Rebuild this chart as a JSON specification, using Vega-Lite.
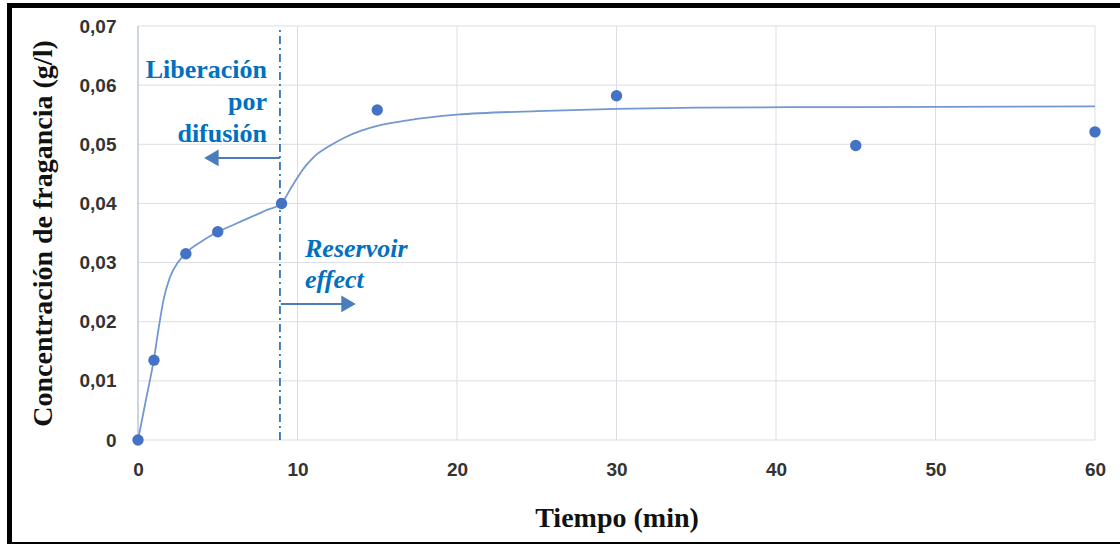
{
  "$schema": "https://vega.github.io/schema/vega-lite/v6.json",
  "width": 1113,
  "height": 539,
  "autosize": {"type": "none"},
  "padding": {"left": 9.5, "top": 5.5, "right": -2.5, "bottom": -0.5},
  "background": "white",
  "config": {
    "view": {"stroke": "black", "strokeWidth": 5, "fill": "white"},
    "axis": {
      "grid": false, "domain": false, "ticks": false, "labelFlush": false,
      "labelFont": "Liberation Sans", "labelFontWeight": "bold", "labelFontSize": 19,
      "labelColor": "#333333",
      "titleFont": "Liberation Serif", "titleFontSize": 28, "titleFontWeight": "bold",
      "titleColor": "#111111", "titleBaseline": "alphabetic"
    },
    "axisX": {"offset": -104.5, "labelPadding": 20, "titleY": 86},
    "axisY": {"offset": -128.5, "labelPadding": 22, "titleX": -87}
  },
  "datasets": {
    "points": [
      {"t": 0, "c": 0},
      {"t": 1, "c": 0.0135},
      {"t": 3, "c": 0.0315},
      {"t": 5, "c": 0.0352},
      {"t": 9, "c": 0.0400},
      {"t": 15, "c": 0.0558},
      {"t": 30, "c": 0.0582},
      {"t": 45, "c": 0.0498},
      {"t": 60, "c": 0.0521}
    ],
    "curve": [
      {"t": 0, "c": 0},
      {"t": 0.5, "c": 0.0068},
      {"t": 1, "c": 0.0137},
      {"t": 1.3, "c": 0.0190},
      {"t": 1.6, "c": 0.0237},
      {"t": 2, "c": 0.0275},
      {"t": 2.5, "c": 0.0300},
      {"t": 3, "c": 0.0316},
      {"t": 4, "c": 0.0336},
      {"t": 5, "c": 0.0352},
      {"t": 6, "c": 0.0364},
      {"t": 7, "c": 0.0376},
      {"t": 8, "c": 0.0388},
      {"t": 9, "c": 0.0400},
      {"t": 9.5, "c": 0.0422},
      {"t": 10, "c": 0.0444},
      {"t": 10.5, "c": 0.0463},
      {"t": 11, "c": 0.0478},
      {"t": 12, "c": 0.0497},
      {"t": 13, "c": 0.0512},
      {"t": 14, "c": 0.0523},
      {"t": 15, "c": 0.0531},
      {"t": 17, "c": 0.0541},
      {"t": 20, "c": 0.0550},
      {"t": 25, "c": 0.0556},
      {"t": 30, "c": 0.0560},
      {"t": 35, "c": 0.0562},
      {"t": 45, "c": 0.0563},
      {"t": 60, "c": 0.0564}
    ],
    "gridx": [{"v": 0}, {"v": 10}, {"v": 20}, {"v": 30}, {"v": 40}, {"v": 50}, {"v": 60}],
    "gridy": [{"v": 0}, {"v": 0.01}, {"v": 0.02}, {"v": 0.03}, {"v": 0.04}, {"v": 0.05}, {"v": 0.06}, {"v": 0.07}],
    "divider": [{"t": 8.9}],
    "arrows": [
      {"from": 8.9, "to": 4.9, "c": 0.0477, "dir": "left"},
      {"from": 8.95, "to": 12.9, "c": 0.0230, "dir": "right"}
    ],
    "heads": [
      {"t": 4.6, "c": 0.0477, "dir": "left"},
      {"t": 13.2, "c": 0.0230, "dir": "right"}
    ],
    "leftText": [
      {"t": 8.09, "c": 0.0612, "label": "Liberación"},
      {"t": 8.09, "c": 0.0558, "label": "por"},
      {"t": 8.09, "c": 0.0504, "label": "difusión"}
    ],
    "rightText": [
      {"t": 10.47, "c": 0.0309, "label": "Reservoir"},
      {"t": 10.47, "c": 0.0257, "label": "effect"}
    ]
  },
  "layer": [
    {
      "data": {"name": "gridx"},
      "mark": {"type": "rule", "color": "#DADDE4", "strokeWidth": 1},
      "encoding": {
        "x": {
          "field": "v", "type": "quantitative", "title": "Tiempo (min)",
          "scale": {"domain": [0, 60], "range": [128.5, 1085.5], "nice": false, "zero": false},
          "axis": {"values": [0, 10, 20, 30, 40, 50, 60]}
        },
        "y": {
          "datum": 0, "type": "quantitative", "title": "Concentración de fragancia (g/l)",
          "scale": {"domain": [0, 0.07], "range": [434.5, 20.5], "nice": false, "zero": false},
          "axis": {
            "values": [0, 0.01, 0.02, 0.03, 0.04, 0.05, 0.06, 0.07],
            "labelExpr": "datum.value == 0 ? '0' : replace(format(datum.value, '.2f'), '.', ',')"
          }
        },
        "y2": {"datum": 0.07}
      }
    },
    {
      "data": {"name": "gridy"},
      "mark": {"type": "rule", "color": "#DADDE4", "strokeWidth": 1},
      "encoding": {
        "y": {"field": "v", "type": "quantitative", "title": "Concentración de fragancia (g/l)"},
        "x": {"datum": 0, "type": "quantitative", "title": "Tiempo (min)"},
        "x2": {"datum": 60}
      }
    },
    {
      "data": {"values": [{"v": 0}]},
      "mark": {"type": "rule", "color": "#C3CCDA", "strokeWidth": 1.5},
      "encoding": {
        "x": {"field": "v", "type": "quantitative", "title": "Tiempo (min)"},
        "y": {"datum": 0, "type": "quantitative", "title": "Concentración de fragancia (g/l)"},
        "y2": {"datum": 0.07}
      }
    },
    {
      "data": {"name": "divider"},
      "mark": {"type": "rule", "color": "#2E75B6", "strokeWidth": 1.8, "strokeDash": [8, 4, 2, 4]},
      "encoding": {
        "x": {"field": "t", "type": "quantitative", "title": "Tiempo (min)"},
        "y": {"datum": 0, "type": "quantitative", "title": "Concentración de fragancia (g/l)"},
        "y2": {"datum": 0.0695}
      }
    },
    {
      "data": {"name": "curve"},
      "mark": {"type": "line", "color": "#7398D0", "strokeWidth": 1.8, "interpolate": "monotone"},
      "encoding": {
        "x": {"field": "t", "type": "quantitative", "title": "Tiempo (min)"},
        "y": {"field": "c", "type": "quantitative", "title": "Concentración de fragancia (g/l)"}
      }
    },
    {
      "data": {"name": "points"},
      "mark": {"type": "point", "filled": true, "color": "#4472C4", "size": 130, "opacity": 1},
      "encoding": {
        "x": {"field": "t", "type": "quantitative", "title": "Tiempo (min)"},
        "y": {"field": "c", "type": "quantitative", "title": "Concentración de fragancia (g/l)"}
      }
    },
    {
      "data": {"name": "arrows"},
      "mark": {"type": "rule", "color": "#4A7EBB", "strokeWidth": 2},
      "encoding": {
        "x": {"field": "from", "type": "quantitative", "title": "Tiempo (min)"},
        "x2": {"field": "to"},
        "y": {"field": "c", "type": "quantitative", "title": "Concentración de fragancia (g/l)"}
      }
    },
    {
      "data": {"name": "heads"},
      "mark": {"type": "point", "filled": true, "color": "#4A7EBB", "size": 280, "opacity": 1},
      "encoding": {
        "x": {"field": "t", "type": "quantitative", "title": "Tiempo (min)"},
        "y": {"field": "c", "type": "quantitative", "title": "Concentración de fragancia (g/l)"},
        "shape": {
          "field": "dir", "type": "nominal", "legend": null,
          "scale": {"domain": ["left", "right"], "range": ["triangle-left", "triangle-right"]}
        }
      }
    },
    {
      "data": {"name": "leftText"},
      "mark": {"type": "text", "font": "Liberation Serif", "fontWeight": "bold", "fontSize": 26,
               "color": "#0070C0", "align": "right", "baseline": "alphabetic"},
      "encoding": {
        "x": {"field": "t", "type": "quantitative", "title": "Tiempo (min)"},
        "y": {"field": "c", "type": "quantitative", "title": "Concentración de fragancia (g/l)"},
        "text": {"field": "label"}
      }
    },
    {
      "data": {"name": "rightText"},
      "mark": {"type": "text", "font": "Liberation Serif", "fontWeight": "bold", "fontStyle": "italic",
               "fontSize": 26, "color": "#0070C0", "align": "left", "baseline": "alphabetic"},
      "encoding": {
        "x": {"field": "t", "type": "quantitative", "title": "Tiempo (min)"},
        "y": {"field": "c", "type": "quantitative", "title": "Concentración de fragancia (g/l)"},
        "text": {"field": "label"}
      }
    }
  ]
}
